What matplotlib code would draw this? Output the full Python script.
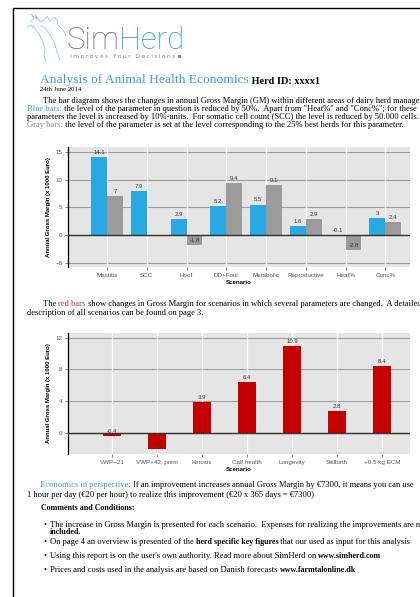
import numpy as np
import matplotlib.pyplot as plt

# donnees des deux graphiques
scen_single = ["Mastitis", "SCC", "Hoof", "DD+Foul", "Metabolic", "Reproductive", "Heat%", "Conc%"]
gm_reduced = [14.1, 7.9, 2.9, 5.2, 5.5, 1.6, -0.1, 3]
gm_best25 = [7, np.nan, -1.8, 9.4, 9.1, 2.9, -2.8, 2.4]

scen_multi = ["VWP\u221221", "VWP+42, primi", "Ketosis", "Calf health", "Longevity", "Stillbirth", "+0.5 kg ECM"]
gm_multi = [-0.4, -2, 3.9, 6.4, 10.9, 2.8, 8.4]

W, H = 420, 597
BLUE_TXT = "#3C9DD6"
SERIF = "Liberation Serif"
SANS = "Liberation Sans"
FS = 6.1   # taille du texte courant
FB = 5.7   # taille du texte gras

fig = plt.figure(figsize=(W / 100, H / 100), dpi=100)
bg = fig.add_axes([0, 0, 1, 1])
bg.set_xlim(0, W)
bg.set_ylim(H, 0)
bg.axis("off")

# bord de page
bg.plot([13, 13, W], [H, 8, 8], color="black", lw=1.0, solid_joinstyle="miter")


def put(x, y, pieces, size=FS, family=SERIF):
    # morceaux de texte colles les uns aux autres sur une ligne
    prev = None
    for p in pieces:
        s, col, wt = p[:3]
        sz = p[3] if len(p) > 3 else (FB if wt == "bold" else size)
        if prev is None:
            prev = bg.text(x, y, s, color=col, fontweight=wt, fontsize=sz,
                           family=family, va="baseline", ha="left")
        else:
            prev = bg.annotate(s, xy=(1, 0), xycoords=prev, color=col, fontweight=wt,
                               fontsize=sz, family=family, va="bottom", ha="left")
    return prev


# logo
cow = "#8ccbec"
bg.plot([30, 34, 31, 37, 35, 41, 44, 47, 50, 55, 58, 57, 63, 66], [22, 18, 14, 19, 15, 22, 20, 16, 21, 17, 22, 24, 30, 36], color=cow, lw=0.6)
bg.plot([33, 36, 39, 42, 45, 44, 46], [25, 30, 34, 40, 48, 56, 62], color=cow, lw=0.6)
bg.plot([41, 45, 49, 52, 55, 57, 60], [26, 28, 33, 38, 44, 52, 60], color=cow, lw=0.6)
bg.plot([27, 31, 33], [27, 25, 28], color=cow, lw=0.6)
put(66, 49, [("Sim", "#6e6e6e", "light", 22.5), ("Herd", "#2f9fdb", "light", 22.5)], family="Roboto")
put(70, 58, [("\u2009".join("Improves Your Decisions") + " \u25aa", "#8a8a8a", "normal", 4.5)], family="DejaVu Sans")

# titre
put(40, 83, [("Analysis of Animal Health Economics", BLUE_TXT, "normal", 9.7),
             (" Herd ID: xxxx1", "black", "bold", 7.4)])
bg.text(40, 90.7, "24th June 2014", fontsize=4.9, family=SERIF, va="baseline")

put(43, 103, [("The bar diagram shows the changes in annual Gross Margin (GM) within different areas of dairy herd management.", "black", "normal")])
put(27, 111, [("Blue bars:", BLUE_TXT, "normal"), (" the level of the parameter in question is reduced by 50%.  Apart from \"Heat%\" and \"Conc%\"; for these", "black", "normal")])
put(27, 119, [("parameters the level is increased by 10%-units.  For somatic cell count (SCC) the level is reduced by 50.000 cells.", "black", "normal")])
put(27, 127, [("Gray bars:", "#8c8c8c", "normal"), (" the level of the parameter is set at the level corresponding to the 25% best herds for this parameter.", "black", "normal")])

put(43, 305.7, [("The ", "black", "normal"), ("red bars", "#cc2a2a", "normal"),
                (" show changes in Gross Margin for scenarios in which several parameters are changed.  A detailed", "black", "normal")])
put(27, 315, [("description of all scenarios can be found on page 3.", "black", "normal")])

put(40, 486.7, [("Economics in perspective:", BLUE_TXT, "normal"),
                (" If an improvement increases annual Gross Margin by \u20ac7300, it means you can use", "black", "normal")])
put(27, 496.7, [("1 hour per day (\u20ac20 per hour) to realize this improvement (\u20ac20 x 365 days = \u20ac7300)", "black", "normal")])
put(41, 510, [("Comments and Conditions:", "black", "bold")])
bul = [(526.7, [("The increase in Gross Margin is presented for each scenario.  Expenses for realizing the improvements are not", "black", "normal")]),
       (544, [("On page 4 an overview is presented of the ", "black", "normal"), ("herd specific key figures", "black", "bold"),
              (" that our used as input for this analysis", "black", "normal")]),
       (558.3, [("Using this report is on the user's own authority. Read more about SimHerd on ", "black", "normal"),
                ("www.simherd.com", "black", "bold")]),
       (571.7, [("Prices and costs used in the analysis are based on Danish forecasts ", "black", "normal"),
                ("www.farmtalonline.dk", "black", "bold")])]
for yy, pcs in bul:
    bg.text(43, yy, "\u2022", fontsize=FS, family=SERIF, va="baseline")
    put(50, yy, pcs)
put(50, 534.3, [("included.", "black", "bold")])


def style(ax, labels, ylim, yticks):
    ax.set_facecolor("#e5e5e5")
    ax.set_xlim(-0.98, len(labels) - 0.38)
    ax.set_ylim(*ylim)
    ax.set_yticks(yticks)
    ax.set_xticks(np.arange(len(labels)))
    ax.set_xticklabels(labels)
    for yt in yticks:
        ax.axhline(yt, color="#9e9e9e", lw=0.8, zorder=1)
    ax.axhline(0, color="#333333", lw=1.0, zorder=4)
    for xt in range(len(labels)):
        ax.axvline(xt, color="white", lw=0.9, zorder=1)
    for s in ["top", "right", "bottom"]:
        ax.spines[s].set_visible(False)
    ax.spines["left"].set_color("black")
    ax.spines["left"].set_linewidth(0.9)
    ax.tick_params(labelsize=4.5, colors="#555555", length=2, width=0.5, pad=2)
    for t in ax.get_xticklabels() + ax.get_yticklabels():
        t.set_family(SANS)
    ax.set_xlabel("Scenario", fontsize=4.4, fontweight="bold", family=SANS, labelpad=2)
    ax.set_ylabel("Annual Gross Margin (x 1000 Euro)", fontsize=4.3, fontweight="bold", family=SANS, labelpad=3)


def labels_on(ax, xs, vals):
    for xv, v in zip(xs, vals):
        if np.isnan(v):
            continue
        ax.annotate(f"{v:g}", (xv, v), xytext=(0, 1.5), textcoords="offset points",
                    ha="center", va="bottom", fontsize=4.3, family=SANS, color="#333333", zorder=5)


# graphique 1
ax1 = fig.add_axes([68 / W, 1 - 267 / H, 342 / W, 120 / H])
x1 = np.arange(len(scen_single))
ax1.bar(x1 - 0.2, gm_reduced, 0.4, color="#29a9e1", zorder=3)
ax1.bar(x1 + 0.2, gm_best25, 0.4, color="#9b9b9b", zorder=3)
style(ax1, scen_single, (-5.8, 15.9), [-5, 0, 5, 10, 15])
labels_on(ax1, x1 - 0.2, gm_reduced)
labels_on(ax1, x1 + 0.2, gm_best25)

# graphique 2
ax2 = fig.add_axes([68 / W, 1 - 454 / H, 342 / W, 121 / H])
x2 = np.arange(len(scen_multi))
ax2.bar(x2, gm_multi, 0.4, color="#c40000", zorder=3)
style(ax2, scen_multi, (-2.65, 12.6), [0, 4, 8, 12])
labels_on(ax2, x2, gm_multi)

fig.savefig("out.png", dpi=100)
